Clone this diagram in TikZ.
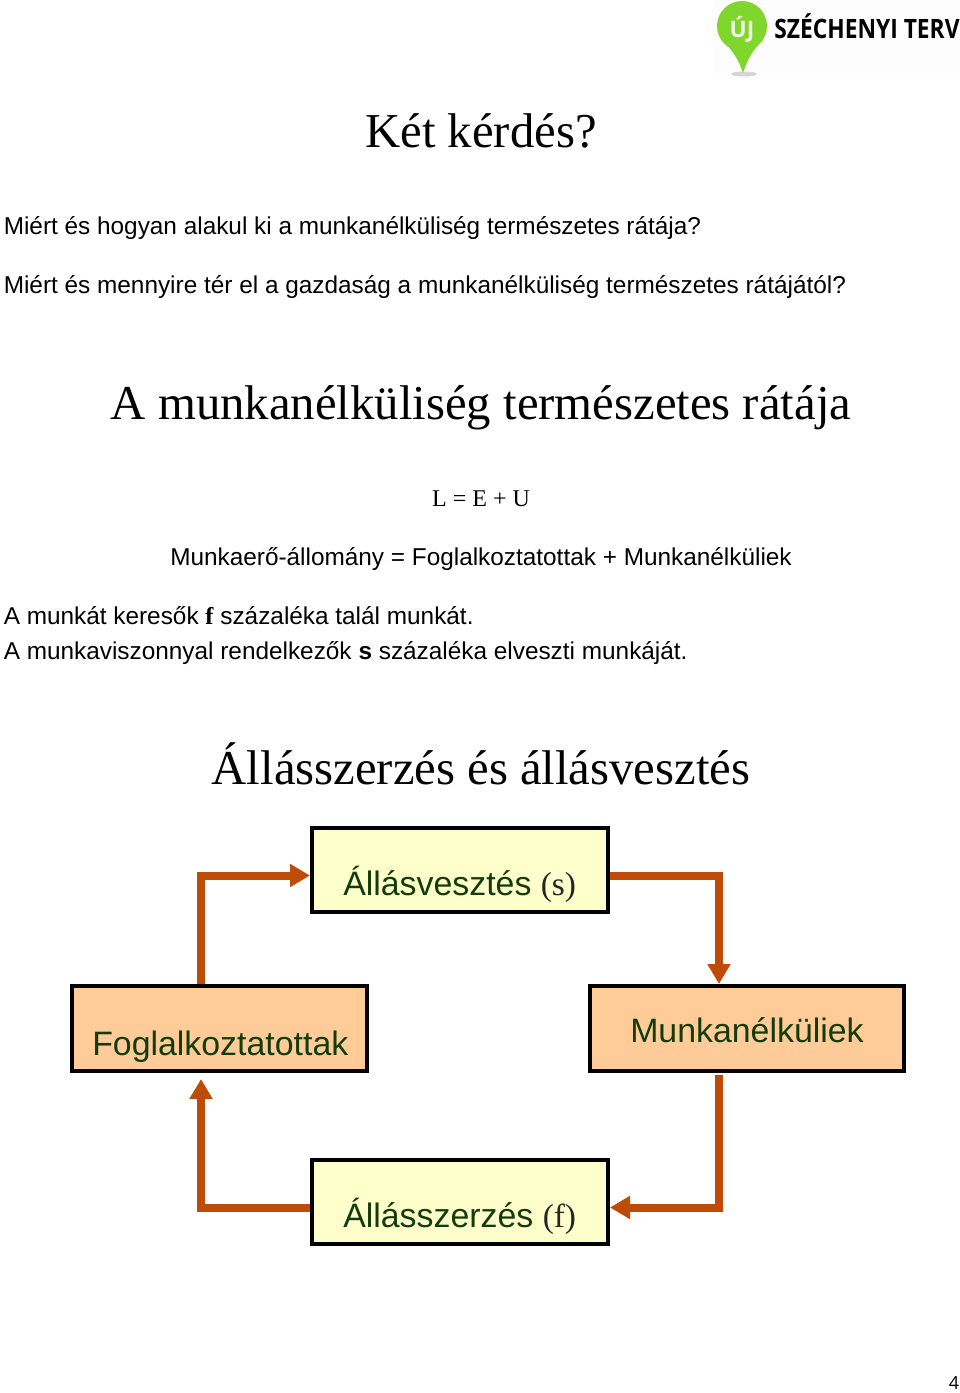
\documentclass[tikz,border=0pt]{standalone}
\usepackage{fontspec}
\setmainfont{Liberation Serif}
\setsansfont{Liberation Sans}
\newfontfamily\logofont{Open Sans}
\usetikzlibrary{arrows.meta,calc}
\definecolor{conncol}{HTML}{BE4B08}
\definecolor{boxyellow}{HTML}{FFFFCC}
\definecolor{boxorange}{HTML}{FFCC99}
\definecolor{boxtext}{HTML}{143C0A}
\definecolor{logogreen}{HTML}{7FD62C}
\newcommand{\fs}[1]{\fontsize{#1}{#1}\selectfont}
\tikzset{
  x=0.75pt,y=-0.75pt,
  heading/.style={anchor=base,inner sep=0pt,font=\rmfamily\fs{36.55}},
  body/.style={anchor=base west,inner sep=0pt,font=\sffamily\fs{18.27}},
  bodyc/.style={anchor=base,inner sep=0pt,font=\sffamily\fs{18.27}},
  flowbox/.style={draw=black,line width=3pt,inner sep=0pt,anchor=north west},
  boxlabel/.style={anchor=base west,inner sep=0pt,text=boxtext,font=\sffamily\fs{25.4}},
  conn/.style={draw=conncol,line width=6pt,line join=miter},
  connhead/.style={conn,-{Triangle[length=15pt,width=16.5pt]}},
}
\begin{document}
\begin{tikzpicture}
\useasboundingbox (0,0) rectangle (960,1393);
% logo
\fill[black!3,opacity=.25] (713,0) rectangle (960,78);
\fill[gray!45,opacity=.7] (744,74) ellipse (13 and 2.5);
\fill[logogreen] (742,26) circle (25);
\fill[logogreen] (743,73) .. controls (738,58) and (732,50) .. (722,40) -- (763,40) .. controls (753,50) and (748,58) .. cycle;
\node[inner sep=0pt,anchor=base,text=white!90!logogreen] (logoj) at (742,37) {\logofont\bfseries\fs{17}ÚJ};
\node[inner sep=0pt,anchor=base west] (logot) at (774,38) {\scalebox{0.855}[1]{\logofont\bfseries\fs{20}SZÉCHENYI TERV}};
% texts
\node[heading] (t1) at (481,147) {Két kérdés?};
\node[body] (l1) at (3.5,234) {Miért és hogyan alakul ki a munkanélküliség természetes rátája?};
\node[body] (l2) at (3.5,293) {Miért és mennyire tér el a gazdaság a munkanélküliség természetes rátájától?};
\node[heading] (t2) at (481,419) {A munkanélküliség természetes rátája};
\node[anchor=base,inner sep=0pt,font=\rmfamily\fs{18}] (eq) at (481,506) {L = E + U};
\node[bodyc] (l3) at (481,565) {Munkaerő-állomány = Foglalkoztatottak + Munkanélküliek};
\node[body] (l4) at (3.5,624) {A munkát keresők {\rmfamily\bfseries f} százaléka talál munkát.};
\node[body] (l5) at (3.5,659) {A munkaviszonnyal rendelkezők {\bfseries s} százaléka elveszti munkáját.};
\node[heading] (t3) at (481,784) {Állásszerzés és állásvesztés};
% boxes
\node[flowbox,fill=boxyellow,minimum width=222pt,minimum height=63pt] (av) at (310,826) {};
\node[flowbox,fill=boxorange,minimum width=221.25pt,minimum height=63.75pt] (fo) at (70,984) {};
\node[flowbox,fill=boxorange,minimum width=235.5pt,minimum height=63.75pt] (mu) at (588,984) {};
\node[flowbox,fill=boxyellow,minimum width=222pt,minimum height=63pt] (asz) at (310,1158) {};
\node[boxlabel] (avt) at (343,895) {Állásvesztés {\rmfamily\color{black!85}\fs{25}(s)}};
\node[boxlabel] (fot) at (92,1055) {Foglalkoztatottak};
\node[boxlabel] (mut) at (630,1042) {Munkanélküliek};
\node[boxlabel] (aszt) at (343,1227) {Állásszerzés {\rmfamily\color{black!85}\fs{25}(f)}};
% connector bends
\coordinate (b1) at (201,875.5);
\coordinate (b2) at (719,875.5);
\coordinate (b3) at (719,1207.5);
\coordinate (b4) at (201,1207.5);
\coordinate (e3) at (719,1075);
\coordinate (e4) at (201,1079);
\draw[connhead] (b1 |- fo.north) -- (b1) -- (b1 -| av.west);
\draw[connhead] (b2 -| av.east) -- (b2) -- (b2 |- mu.north);
\draw[connhead] (e3) -- (b3) -- (b3 -| asz.east);
\draw[connhead] (b4 -| asz.west) -- (b4) -- (e4);
% page number
\node[anchor=base,inner sep=0pt,font=\logofont\fs{13.5}] (pg) at (954,1389) {4};
\end{tikzpicture}
\end{document}
